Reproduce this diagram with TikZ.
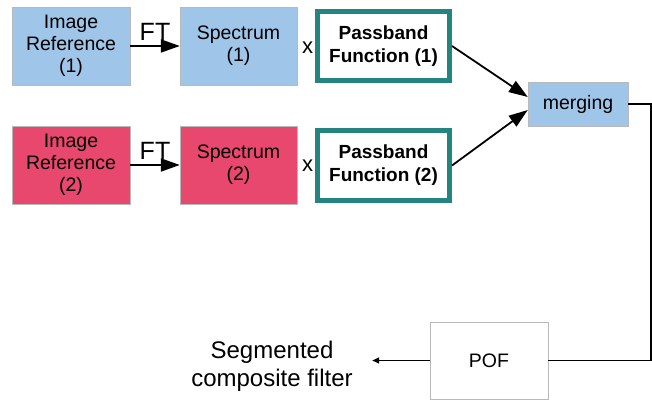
\documentclass[tikz,border=0pt]{standalone}
\usepackage{fontspec}
\setmainfont{Liberation Sans}
\usepackage{xcolor}
\usepackage{tikz}
\usetikzlibrary{positioning}
\usetikzlibrary{arrows.meta}
\definecolor{skyfill}{RGB}{159,197,232}
\definecolor{rosefill}{RGB}{232,72,110}
\definecolor{tealedge}{RGB}{36,132,128}
\tikzset{
  refbox/.style={%
    draw=gray!55,
    rectangle,
    align=center,
    inner sep=0,
    minimum width=118pt,
    minimum height=78pt,
    font=\fontsize{19.5}{22}\selectfont,
  },
  bandbox/.style={%
    draw=tealedge,
    line width=5pt,
    fill=white,
    align=center,
    inner sep=0,
    minimum width=132pt,
    minimum height=69pt,
    font=\bfseries\fontsize{19}{23}\selectfont,
  },
  flow/.style={-{Triangle[length=19pt,width=13pt]},line width=1.8pt},
  tinyflow/.style={-{Triangle[length=7pt,width=6pt]},line width=1.4pt},
  plain/.style={font=\fontsize{24}{28}\selectfont},
}

\begin{document}
\begin{tikzpicture}[x=1pt,y=-1pt]
    \useasboundingbox (0,0) rectangle (652,403);
    % first reference
    \node (imgA) [refbox,fill=skyfill] at (71,46) {Image\\Reference\\(1)};
    \node (specA) [refbox,fill=skyfill,minimum width=117pt] at (238.5,46) {Spectrum\\(1)};
    \node (passA) [bandbox] at (383.5,46) {Passband\\Function (1)};
    % second reference
    \node (imgB) [refbox,fill=rosefill] at (71,165) {Image\\Reference\\(2)};
    \node (specB) [refbox,fill=rosefill,minimum width=117pt] at (238.5,165) {Spectrum\\(2)};
    \node (passB) [bandbox,minimum height=70pt] at (383.5,165.5) {Passband\\Function (2)};
    % products
    \node (timesA) [font=\fontsize{22}{22}\selectfont] at (307.5,48) {x};
    \node (timesB) [font=\fontsize{22}{22}\selectfont] at (307.5,166) {x};
    % merge and filter
    \node (merge) [refbox,fill=skyfill,minimum width=100pt,minimum height=44pt] at (578,104) {merging};
    \node (pof) [refbox,fill=white,minimum height=77pt] at (489,360.5) {POF};
    \node (result) [plain,align=center] at (272,366) {Segmented\\composite filter};
    \coordinate (turn) at (651,104);

    \draw [flow] (imgA) -- node[above=1pt,plain,font=\fontsize{25}{25}\selectfont] {FT} (specA);
    \draw [flow] (imgB) -- node[above=1pt,plain,font=\fontsize{25}{25}\selectfont] {FT} (specB);
    \draw [flow] (passA.east) -- ([yshift=7pt]merge.west);
    \draw [flow] (passB.east) -- ([yshift=-6pt]merge.west);
    \draw [line width=1.4pt] (merge.east) -- (turn) |- (pof.east);
    \draw [tinyflow,shorten >=16pt] (pof.west) -- (pof.west -| result.east);
\end{tikzpicture}
\end{document}
